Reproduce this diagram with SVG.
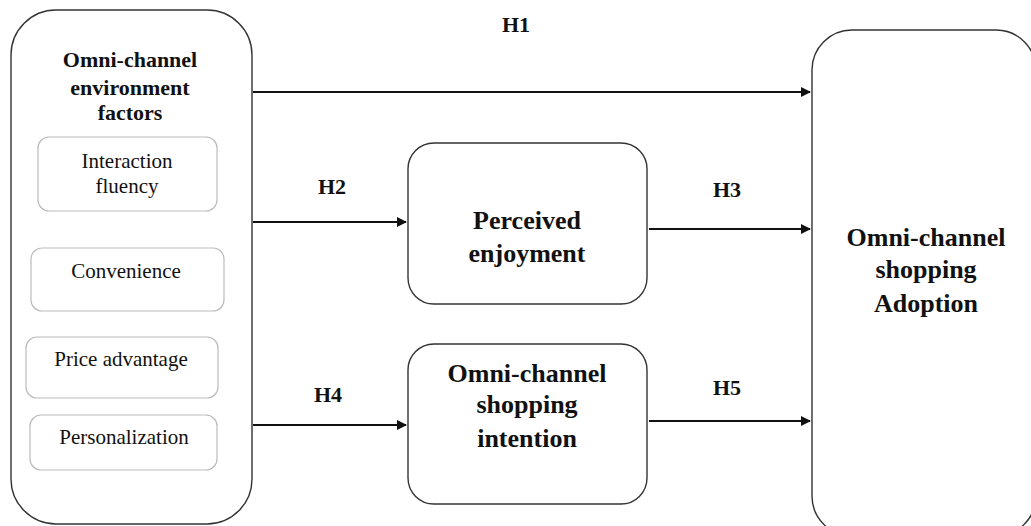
<svg xmlns="http://www.w3.org/2000/svg" width="1031" height="526" viewBox="0 0 1031 526">
<style>
.main{fill:#fff;stroke:#333;stroke-width:1.4}
.sub{fill:#fff;stroke:#bbb;stroke-width:1.2}
text{font-family:'Liberation Serif','Times New Roman',Tinos,'DejaVu Serif',serif;fill:#111;text-anchor:middle}
.bt{font-weight:bold}
.rt{font-size:21px}
.big{font-size:26px}
.ttl{font-size:22px}
.lbl{font-size:22px}
.conn line{stroke:#111;stroke-width:2;marker-end:url(#ah)}
</style>
<defs>
<marker id="ah" viewBox="0 0 10 10" refX="9" refY="5" markerWidth="5.5" markerHeight="5" markerUnits="strokeWidth" orient="auto">
<path d="M0,0 L10,5 L0,10 Z" fill="#111"/>
</marker>
</defs>
<rect width="1031" height="526" fill="#fff"/>
<g id="env">
<rect class="main" x="11" y="10" width="241" height="514" rx="45"/>
<text class="bt ttl" x="130" y="67">Omni-channel</text>
<text class="bt ttl" x="130" y="95">environment</text>
<text class="bt ttl" x="130" y="120">factors</text>
</g>
<g id="interaction">
<rect class="sub" x="38" y="137" width="179" height="74" rx="11"/>
<text class="rt" x="127" y="168">Interaction</text>
<text class="rt" x="127" y="193">fluency</text>
</g>
<g id="convenience">
<rect class="sub" x="31" y="248" width="193" height="63" rx="11"/>
<text class="rt" x="126" y="278">Convenience</text>
</g>
<g id="price">
<rect class="sub" x="26" y="337" width="192" height="61" rx="11"/>
<text class="rt" x="121" y="366">Price advantage</text>
</g>
<g id="personalization">
<rect class="sub" x="30" y="415" width="187" height="55" rx="11"/>
<text class="rt" x="124" y="444">Personalization</text>
</g>
<g id="enjoyment">
<rect class="main" x="408" y="143" width="239" height="161" rx="26"/>
<text class="bt big" x="527" y="229">Perceived</text>
<text class="bt big" x="527" y="262">enjoyment</text>
</g>
<g id="intention">
<rect class="main" x="408" y="344" width="239" height="160" rx="26"/>
<text class="bt big" x="527" y="382">Omni-channel</text>
<text class="bt big" x="527" y="413">shopping</text>
<text class="bt big" x="527" y="447">intention</text>
</g>
<g id="adoption">
<rect class="main" x="812" y="30" width="224" height="506" rx="40"/>
<text class="bt big" x="926" y="246">Omni-channel</text>
<text class="bt big" x="926" y="278">shopping</text>
<text class="bt big" x="926" y="312">Adoption</text>
</g>
<g id="connectors" class="conn">
<line x1="253" y1="92" x2="810" y2="92"/>
<line x1="253" y1="222" x2="406" y2="222"/>
<line x1="649" y1="229" x2="810" y2="229"/>
<line x1="253" y1="425" x2="406" y2="425"/>
<line x1="649" y1="421" x2="810" y2="421"/>
<text class="bt lbl" x="516" y="32">H1</text>
<text class="bt lbl" x="332" y="194">H2</text>
<text class="bt lbl" x="727" y="197">H3</text>
<text class="bt lbl" x="328" y="402">H4</text>
<text class="bt lbl" x="727" y="395">H5</text>
</g>
</svg>
